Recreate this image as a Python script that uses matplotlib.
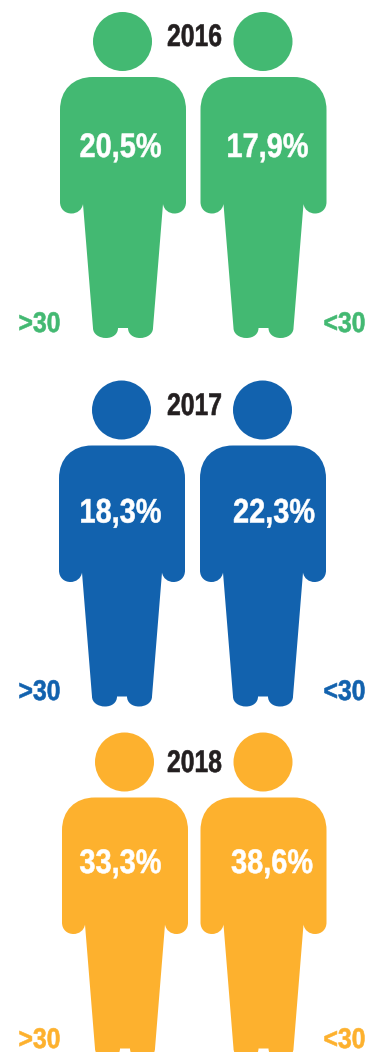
import matplotlib
matplotlib.use("Agg")
import matplotlib.pyplot as plt
from matplotlib.patches import Circle, PathPatch
from matplotlib.path import Path
from matplotlib.patheffects import AbstractPathEffect
from matplotlib.transforms import Affine2D

years = ["2016", "2017", "2018"]
over_30 = ["20,5%", "18,3%", "33,3%"]
under_30 = ["17,9%", "22,3%", "38,6%"]
colors = ["#43B972", "#1262AE", "#FDB12E"]
ink = "#231F20"

# figure placement of each row, in pixels
head_y = [41.5, 410, 762]
left_x = [123, 122, 125]
right_x = [263.5, 263, 263.5]
year_y = [46, 415, 772]
pct_y = [157, 522.5, 873]
pct_x_left = [120.5, 120.5, 120.5]
pct_x_right = [267.5, 274, 272]
tag_y = [332, 700, 1048]

plt.rcParams['font.family'] = ['Liberation Sans', 'DejaVu Sans']


class Squeeze(AbstractPathEffect):
    # narrows a text horizontally around x0 and thickens it a little,
    # the face has no condensed cut
    def __init__(self, sx, x0, weight):
        super().__init__()
        self.sx = sx
        self.x0 = x0
        self.weight = weight

    def draw_path(self, renderer, gc, tpath, affine, rgbFace=None):
        squeeze = Affine2D().translate(-self.x0, 0).scale(self.sx, 1).translate(self.x0, 0)
        gc0 = renderer.new_gc()
        gc0.copy_properties(gc)
        gc0.set_foreground(rgbFace)
        gc0.set_linewidth(self.weight)
        renderer.draw_path(gc0, tpath, affine + squeeze, rgbFace)
        gc0.restore()


def body_path(cx, top):
    # right half of the outline relative to the centre line, mirrored for the left
    half = [
        (Path.LINETO, [(30, 0)]),
        (Path.CURVE4, [(50, 0), (63, 13), (63, 33)]),
        (Path.LINETO, [(63, 125)]),
        (Path.CURVE4, [(63, 132), (58, 136.5), (51.5, 136.5)]),
        (Path.CURVE4, [(46, 136.5), (41, 133), (40, 127)]),
        (Path.LINETO, [(30, 251)]),
        (Path.CURVE4, [(30, 257), (24, 261), (17, 261)]),
        (Path.CURVE4, [(10, 261), (5, 257), (5, 251)]),
        (Path.LINETO, [(0, 251)]),
    ]
    verts = [(cx - 30, top)]
    codes = [Path.MOVETO]
    for code, pts in half:
        for x, y in pts:
            verts.append((cx + x, top + y))
            codes.append(code)
    # walk back up the left side
    rev = [(-x, y) for code, pts in half for x, y in pts]
    rev_codes = [code for code, pts in half for _ in pts]
    rev = rev[::-1]
    rev_codes = rev_codes[::-1]
    for i in range(1, len(rev)):
        verts.append((cx + rev[i][0], top + rev[i][1]))
        codes.append(rev_codes[i - 1])
    verts.append((cx - 30, top))
    codes.append(Path.CLOSEPOLY)
    return Path(verts, codes)


def person(ax, cx, hy, color):
    ax.add_patch(Circle((cx - 0.5, hy), 29.5, fc=color, ec="none"))
    ax.add_patch(PathPatch(body_path(cx, hy + 35.5), fc=color, ec="none"))


def label(ax, x, y, s, color, size, sx, weight=0.4):
    t = ax.text(x, y, s, color=color, fontsize=size, fontweight="bold", ha="center", va="baseline")
    t.set_path_effects([Squeeze(sx, x, weight)])


fig = plt.figure(figsize=(3.71, 10.52), dpi=100)
ax = fig.add_axes([0, 0, 1, 1])
ax.set_xlim(0, 371)
ax.set_ylim(1052, 0)
ax.axis("off")

for i in range(len(years)):
    c = colors[i]
    person(ax, left_x[i], head_y[i], c)
    person(ax, right_x[i], head_y[i], c)
    label(ax, 194.5, year_y[i], years[i], ink, 22.5, 0.79)
    label(ax, pct_x_left[i], pct_y[i], over_30[i], "white", 24.5, 0.85)
    label(ax, pct_x_right[i], pct_y[i], under_30[i], "white", 24.5, 0.85)
    label(ax, 39.5, tag_y[i], ">30", c, 20.5, 0.87)
    label(ax, 344.5, tag_y[i], "<30", c, 20.5, 0.87)

fig.savefig("out.png", dpi=100)
